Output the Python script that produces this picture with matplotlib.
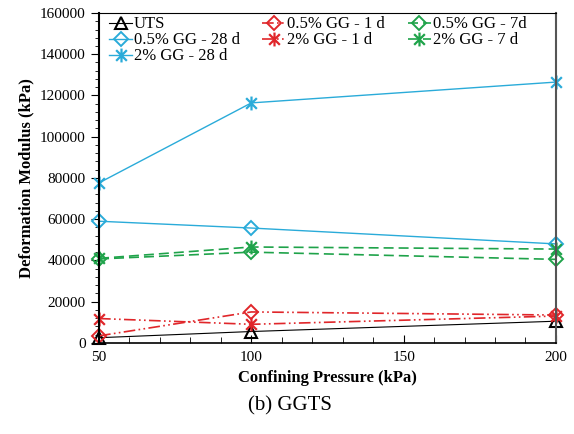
import matplotlib.pyplot as plt
from matplotlib.path import Path
from matplotlib.ticker import MultipleLocator

plt.rcParams['font.family'] = ['Liberation Serif', 'DejaVu Serif']

pressure = [50, 100, 200]

uts = [2500, 5500, 10500]
gg05_1d = [3400, 15000, 13500]
gg05_7d = [40700, 44000, 40500]
gg05_28d = [59000, 55700, 48000]
gg2_1d = [11800, 9000, 13000]
gg2_7d = [41000, 46500, 45500]
gg2_28d = [77600, 116400, 126500]

red = '#e0262a'
green = '#1fa34a'
blue = '#2aabd9'

# Excel-style star: an X crossed by a vertical bar
star = Path([(-1, -1), (1, 1), (-1, 1), (1, -1), (0, -1.3), (0, 1.3)],
            [Path.MOVETO, Path.LINETO, Path.MOVETO, Path.LINETO, Path.MOVETO, Path.LINETO])

dashdotdot = (0, (7, 2, 1, 2, 1, 2))
dashed = (0, (6, 3))

fig = plt.figure(figsize=(5.74, 4.34), dpi=100)
ax = fig.add_axes([0.1725, 0.21, 0.796, 0.76])

kw = dict(clip_on=False)
l_uts, = ax.plot(pressure, uts, color='black', lw=0.8, marker='^', ms=9, mfc='none', mew=1.5, label='UTS', **kw)
l05_1, = ax.plot(pressure, gg05_1d, color=red, lw=1.2, ls=dashdotdot, marker='D', ms=7, mfc='none', mew=1.4, label='0.5% GG - 1 d', **kw)
l05_7, = ax.plot(pressure, gg05_7d, color=green, lw=1.2, ls=dashed, marker='D', ms=7, mfc='none', mew=1.4, label='0.5% GG - 7d', **kw)
l05_28, = ax.plot(pressure, gg05_28d, color=blue, lw=1.0, marker='D', ms=7, mfc='none', mew=1.4, label='0.5% GG - 28 d', **kw)
l2_1, = ax.plot(pressure, gg2_1d, color=red, lw=1.2, ls=dashdotdot, marker=star, ms=10, mew=1.6, label='2% GG - 1 d', **kw)
l2_7, = ax.plot(pressure, gg2_7d, color=green, lw=1.2, ls=dashed, marker=star, ms=10, mew=1.6, label='2% GG - 7 d', **kw)
l2_28, = ax.plot(pressure, gg2_28d, color=blue, lw=1.0, marker=star, ms=10, mew=1.6, label='2% GG - 28 d', **kw)

ax.set_xlim(50, 200)
ax.set_ylim(0, 160000)
ax.set_xticks([50, 100, 150, 200])
ax.set_yticks(range(0, 160001, 20000))
ax.xaxis.set_minor_locator(MultipleLocator(10))
ax.yaxis.set_minor_locator(MultipleLocator(4000))
ax.tick_params(axis='x', which='both', direction='in', labelsize=11, pad=6)
ax.tick_params(axis='x', which='major', length=6)
ax.tick_params(axis='x', which='minor', length=4)
ax.tick_params(axis='y', which='both', direction='out', labelsize=11)
ax.tick_params(axis='y', which='major', length=6)
ax.tick_params(axis='y', which='minor', length=3)
ax.spines['right'].set_color('#555555')
ax.spines['right'].set_linewidth(1.5)
ax.spines['left'].set_linewidth(1.5)
ax.spines['bottom'].set_linewidth(1.2)

ax.set_xlabel('Confining Pressure (kPa)', fontsize=12, fontweight='bold', labelpad=4)
ax.set_ylabel('Deformation Modulus (kPa)', fontsize=12, fontweight='bold', labelpad=4)

# legend fills column-wise, so order handles to read row by row
handles = [l_uts, l05_28, l2_28, l05_1, l2_1, l05_7, l2_7]
ax.legend(handles=handles, ncol=3, loc='upper left', frameon=False, fontsize=12,
          handlelength=1.4, handletextpad=0.1, columnspacing=1.35, labelspacing=0.0,
          borderpad=0.1, borderaxespad=0.0, bbox_to_anchor=(0.018, 0.995))

fig.text(0.505, 0.055, '(b) GGTS', ha='center', fontsize=15)

fig.savefig('out.png', dpi=100)
